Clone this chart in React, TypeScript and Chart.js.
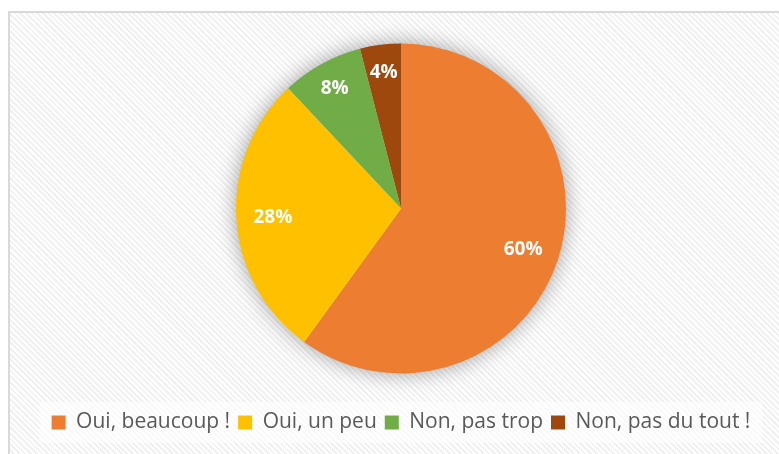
import React, { useEffect, useRef } from "react";
import { Chart, registerables } from "chart.js";

Chart.register(...registerables);

const categories = ["Oui, beaucoup !", "Oui, un peu", "Non, pas trop", "Non, pas du tout !"];
const values = [60, 28, 8, 4];
const colors = ["#ED7D31", "#FFC000", "#70AD47", "#9E480E"];

const shadowPlugin = {
  id: "pieShadow",
  beforeDatasetsDraw(chart: any) {
    const meta = chart.getDatasetMeta(0);
    const arc = meta.data[0];
    if (!arc) return;
    const { x, y, outerRadius } = arc.getProps(["x", "y", "outerRadius"], true);
    const ctx = chart.ctx;
    ctx.save();
    ctx.shadowColor = "rgba(0,0,0,0.4)";
    ctx.shadowBlur = 22;
    ctx.shadowOffsetX = 0;
    ctx.shadowOffsetY = 0;
    ctx.fillStyle = "#ffffff";
    ctx.beginPath();
    ctx.arc(x, y, outerRadius - 1, 0, Math.PI * 2);
    ctx.fill();
    ctx.restore();
  },
};

const legendBgPlugin = {
  id: "legendBg",
  beforeDraw(chart: any) {
    const lg = chart.legend;
    if (!lg || !lg.legendHitBoxes || !lg.legendHitBoxes.length) return;
    const boxes = lg.legendHitBoxes;
    let l = Infinity, r = -Infinity, t = Infinity, b = -Infinity;
    boxes.forEach((h: any) => {
      l = Math.min(l, h.left);
      r = Math.max(r, h.left + h.width);
      t = Math.min(t, h.top);
      b = Math.max(b, h.top + h.height);
    });
    const ctx = chart.ctx;
    ctx.save();
    ctx.fillStyle = "rgba(255,255,255,0.6)";
    ctx.fillRect(l - 12, t - 10, r - l + 24, b - t + 20);
    ctx.restore();
  },
};

const labelPlugin = {
  id: "pctLabels",
  afterDatasetsDraw(chart: any) {
    const meta = chart.getDatasetMeta(0);
    const data = chart.data.datasets[0].data as number[];
    const total = data.reduce((a, v) => a + v, 0);
    const ctx = chart.ctx;
    ctx.save();
    ctx.fillStyle = "#ffffff";
    ctx.font = "bold 19px 'Open Sans'";
    ctx.textAlign = "center";
    ctx.textBaseline = "middle";
    meta.data.forEach((arc: any, i: number) => {
      const { x, y, startAngle, endAngle, outerRadius } = arc.getProps(
        ["x", "y", "startAngle", "endAngle", "outerRadius"],
        true
      );
      const frac = data[i] / total;
      const mid = (startAngle + endAngle) / 2;
      const d = outerRadius * (frac >= 0.2 ? 0.778 : 0.835);
      const px = x + Math.cos(mid) * d;
      const py = y + Math.sin(mid) * d;
      ctx.fillText(Math.round(frac * 100) + "%", px, py + 1);
    });
    ctx.restore();
  },
};

export default function App() {
  const ref = useRef<HTMLCanvasElement | null>(null);

  useEffect(() => {
    document.documentElement.style.overflow = "hidden";
    document.body.style.overflow = "hidden";
    if (!ref.current) return;
    const chart = new Chart(ref.current, {
      type: "pie",
      data: {
        labels: categories,
        datasets: [
          {
            data: values,
            backgroundColor: colors,
            borderWidth: 0,
            radius: 165,
          } as any,
        ],
      },
      options: {
        responsive: false,
        animation: false,
        devicePixelRatio: 1,
        layout: { padding: { top: -3, bottom: 11, left: 0, right: 0 } },
        plugins: {
          tooltip: { enabled: false },
          legend: {
            position: "bottom",
            labels: {
              boxWidth: 14,
              boxHeight: 14,
              padding: 8,
              color: "#595959",
              font: { family: "'Open Sans'", size: 21 },
            },
          },
        },
      },
      plugins: [shadowPlugin, legendBgPlugin, labelPlugin],
    });
    return () => chart.destroy();
  }, []);

  return (
    <div
      style={{
        position: "absolute",
        left: 8,
        top: 11,
        width: 782,
        height: 441,
        border: "2px solid #d9d9d9",
        background:
          "repeating-linear-gradient(45deg, #ffffff 0px, #ffffff 2px, #f1f1f1 2px, #f1f1f1 4px)",
      }}
    >
      <canvas ref={ref} width={782} height={441} style={{ display: "block" }} />
    </div>
  );
}
